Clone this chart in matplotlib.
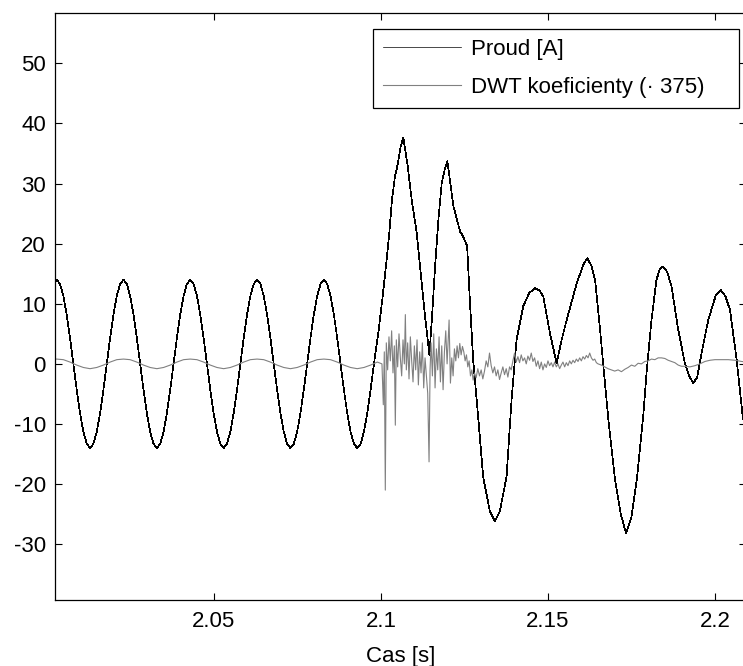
import numpy as np
import matplotlib
matplotlib.use('Agg')
import matplotlib.pyplot as plt
from matplotlib import rcParams

rcParams.update({
    'font.family': ['Liberation Sans', 'DejaVu Sans'],
    'font.size': 16,
    'axes.linewidth': 0.9,
    'axes.unicode_minus': False,
    'xtick.direction': 'in', 'ytick.direction': 'in',
    'xtick.top': True, 'ytick.right': True,
    'xtick.major.size': 5, 'ytick.major.size': 5,
    'xtick.major.width': 0.8, 'ytick.major.width': 0.8,
})

# time in ms after 2.000 s
# current [A], regular 50 Hz part sampled every 1 ms from 1.9 ms
cur_reg_start, cur_reg_step = 1.9, 1.0
cur_reg = [13.3,
           14.0, 13.3, 11.3, 8.2, 4.3, 0.0, -4.3, -8.2, -11.3, -13.3,
           -14.0, -13.3, -11.3, -8.2, -4.3, 0.0, 4.3, 8.2, 11.3, 13.3,
           14.0, 13.3, 11.3, 8.2, 4.3, 0.0, -4.3, -8.2, -11.3, -13.3,
           -14.0, -13.3, -11.3, -8.2, -4.3, 0.0, 4.3, 8.2, 11.3, 13.3,
           14.0, 13.3, 11.3, 8.2, 4.3, 0.0, -4.3, -8.2, -11.3, -13.3,
           -14.0, -13.3, -11.3, -8.2, -4.3, 0.0, 4.3, 8.2, 11.3, 13.3,
           14.0, 13.3, 11.3, 8.2, 4.3, 0.0, -4.3, -8.2, -11.3, -13.3,
           -14.0, -13.3, -11.3, -8.2, -4.3, 0.0, 4.3, 8.2, 11.3, 13.3,
           14.0, 13.3, 11.3, 8.2, 4.3, 0.0, -4.3, -8.2, -11.3, -13.3,
           -14.0, -13.3, -11.3, -8.2, -4.3, 0.0]
# current during / after the fault
cur_ms = [99.2, 100.4, 101.7, 102.5, 103.3, 104.2, 104.9, 105.9, 106.7, 108.0,
          109.2, 110.7, 111.7, 113.2, 114.5, 115.3, 116.2, 117.2, 118.2, 119.2,
          119.9, 120.8, 121.7, 123.7, 124.6, 125.8, 126.6, 127.6, 129.1, 130.6,
          132.6, 134.1, 135.6, 137.6, 139.1, 140.6, 142.6, 144.4, 146.1, 147.5,
          148.6, 150.6, 152.6, 154.1, 155.6, 158.6, 160.6, 161.8, 163.1, 164.1,
          165.6, 166.6, 168.1, 170.1, 171.8, 173.4, 175.0, 176.6, 178.5, 179.6,
          181.0, 182.5, 183.5, 184.5, 185.7, 187.0, 189.0, 191.0, 192.3, 193.5,
          194.7, 196.0, 198.0, 200.3, 201.7, 203.1, 204.5, 206.5, 208.2, 210.0]
cur_val = [5.1, 10.7, 17.3, 21.8, 27.3, 31.2, 32.9, 36.2, 37.6, 32.9,
           27.3, 21.8, 16.2, 7.9, 1.5, 7.9, 16.2, 24.0, 30.1, 32.6,
           33.7, 30.0, 26.2, 22.0, 21.2, 19.6, 10.7, 0.7, -8.8, -18.8,
           -24.5, -26.2, -24.5, -18.8, -6.0, 4.0, 9.6, 11.8, 12.6, 12.2,
           11.2, 5.1, 0.1, 4.0, 7.3, 13.4, 16.5, 17.6, 16.2, 14.0,
           5.7, -0.4, -9.3, -19.3, -25.0, -28.2, -25.5, -19.3, -8.8, -1.0,
           7.3, 14.0, 15.8, 16.2, 15.3, 12.9, 5.7, 0.1, -2.0, -3.2,
           -2.2, 1.8, 7.3, 11.5, 12.3, 11.3, 9.0, 0.7, -8.2, -14.0]

# DWT coefficients (x375), regular part sampled every 2 ms from 0.9 ms
dwt_reg_start, dwt_reg_step = 0.9, 2.0
dwt_reg = [0.7,
           0.8, 0.7, 0.3, -0.2, -0.6, -0.8, -0.6, -0.2, 0.3, 0.7,
           0.8, 0.7, 0.3, -0.2, -0.6, -0.8, -0.6, -0.2, 0.3, 0.7,
           0.8, 0.7, 0.3, -0.2, -0.6, -0.8, -0.6, -0.2, 0.3, 0.7,
           0.8, 0.7, 0.3, -0.2, -0.6, -0.8, -0.6, -0.2, 0.3, 0.7,
           0.8, 0.7, 0.3, -0.2, -0.6, -0.8, -0.6, -0.2, 0.3]
dwt_ms = [100.3, 100.7, 101.0, 101.3, 101.6, 102.0, 102.4, 102.8, 103.2, 103.6,
          104.0, 104.3, 104.6, 105.0, 105.4, 105.8, 106.2, 106.6, 107.0, 107.3,
          107.6, 108.0, 108.4, 108.8, 109.2, 109.6, 110.0, 110.4, 110.8, 111.2,
          111.6, 112.0, 112.4, 112.8, 113.2, 113.6, 114.0, 114.4, 114.7, 115.0,
          115.4, 115.8, 116.2, 116.6, 117.0, 117.4, 117.8, 118.2, 118.6, 119.0,
          119.4, 119.8, 120.4, 120.8, 121.2, 121.6, 122.0, 122.4, 122.8, 123.2,
          123.6, 124.0, 124.4, 124.8, 125.2, 125.6, 126.0, 126.4, 126.8, 127.2,
          127.6, 128.0, 128.5, 129.0, 129.5, 130.0, 130.5, 131.0, 131.5, 132.0,
          132.5, 133.0, 133.5, 134.0, 134.5, 135.0, 135.5, 136.0, 136.5, 137.0,
          137.5, 138.0, 138.5, 139.0, 139.5, 140.0, 140.5, 141.0, 141.5, 142.0,
          142.5, 143.0, 143.5, 144.0, 144.5, 145.0, 145.5, 146.0, 146.5, 147.0,
          147.5, 148.0, 148.5, 149.0, 149.5, 150.0, 150.5, 151.0, 151.5, 152.0,
          152.5, 153.0, 153.5, 154.0, 154.5, 155.0, 155.5, 156.0, 156.5, 157.0,
          157.5, 158.0, 158.5, 159.0, 159.5, 160.0, 160.5, 161.0, 161.5, 162.0,
          162.5, 163.0, 163.5, 164.0, 164.5, 165.0, 166.0, 167.0, 168.0, 169.0,
          170.0, 171.0, 172.0, 173.0, 174.0, 175.0, 176.0, 177.0, 178.0, 179.0,
          180.0, 181.0, 182.0, 183.0, 184.0, 185.0, 186.0, 187.0, 188.0, 189.0,
          190.0, 191.0, 192.5, 194.0, 195.5, 197.0, 198.5, 200.0, 202.0, 204.0,
          206.0, 208.0, 210.0]
dwt_val = [0.0, -6.8, 2.0, -21.0, 3.5, -1.0, 4.5, 0.5, 5.5, -1.5,
           3.0, -10.2, 4.0, -0.5, 5.0, 1.0, -2.0, 4.0, 0.0, 8.2,
           -1.0, 3.5, -2.5, 4.5, 0.5, -3.0, 3.0, -1.0, 4.0, -3.5,
           2.0, -1.5, 3.5, -4.0, 1.0, -2.0, -4.9, -16.3, -1.0, 3.5,
           -2.0, 5.0, -4.0, 2.5, -1.0, 4.5, -3.0, 3.0, -4.3, 2.0,
           5.5, 0.0, 7.3, -3.2, 1.0, -2.0, 2.5, 0.5, 3.0, 1.0,
           3.4, 1.5, 2.9, 2.0, 0.5, 1.5, -0.5, 0.5, -2.0, -1.0,
           -2.7, -1.5, -2.3, -0.8, -2.0, -1.0, -2.5, -1.2, 0.5, -0.5,
           1.8, -0.3, -1.5, -0.5, -2.0, -1.0, -2.6, -1.5, -0.5, -1.8,
           -0.8, -2.2, -0.5, -1.0, 0.5, 1.8, 0.3, 1.2, 0.2, 1.5,
           0.5, 1.0, 0.0, 1.3, 0.6, 1.8, 0.4, 1.0, -0.4, 0.5,
           -0.8, 0.3, -1.0, 0.0, -0.6, 0.5, -0.3, 0.2, -0.5, 0.3,
           -0.5, 0.0, -0.8, -0.2, 0.3, -0.5, 0.2, -0.3, 0.5, 0.0,
           0.6, 0.2, 0.8, 0.4, 1.0, 0.5, 1.2, 0.8, 1.4, 1.0,
           1.8, 1.0, 0.6, 0.8, 0.2, 0.0, -0.2, -0.5, -0.8, -1.0,
           -1.2, -1.0, -1.3, -0.9, -0.6, -0.2, -0.4, 0.1, 0.0, 0.4,
           0.5, 0.8, 0.7, 1.0, 1.0, 0.9, 0.6, 0.4, 0.2, -0.2,
           -0.4, -0.4, -0.5, -0.3, 0.0, 0.4, 0.6, 0.7, 0.7, 0.7,
           0.6, 0.4, 0.3]

x_ticks = [2.05, 2.1, 2.15, 2.2]
x_ticklabels = ['2.05', '2.1', '2.15', '2.2']
y_ticks = [-30, -20, -10, 0, 10, 20, 30, 40, 50]

cur_t = np.concatenate([cur_reg_start + cur_reg_step * np.arange(len(cur_reg)),
                        cur_ms]) / 1000 + 2.0
cur_y = np.concatenate([cur_reg, cur_val])
dwt_t = np.concatenate([dwt_reg_start + dwt_reg_step * np.arange(len(dwt_reg)),
                        dwt_ms]) / 1000 + 2.0
dwt_y = np.concatenate([dwt_reg, dwt_val])

W, H = 743, 666
fig = plt.figure(figsize=(W / 100, H / 100), dpi=100)
ax = fig.add_axes([55 / W, 1 - 600 / H, (746 - 55) / W, (600 - 13) / H])

ax.plot(cur_t, cur_y, color='k', lw=0.5, antialiased=False, label='Proud [A]')
ax.plot(dwt_t, dwt_y, color='0.5', lw=0.8, label='DWT koeficienty (· 375)')

ax.set_xlim(2.0024, 2.2093)
ax.set_ylim(-39.28, 58.37)
ax.set_xticks(x_ticks)
ax.set_xticklabels(x_ticklabels)
ax.set_yticks(y_ticks)
ax.tick_params(axis='x', pad=8)
ax.tick_params(axis='y', pad=6.5)
ax.set_xlabel('Cas [s]', labelpad=10)

leg = ax.legend(loc='upper left', mode='expand',
                bbox_to_anchor=(373 / W, 1 - 107 / H, (739 - 373) / W, 78 / H),
                bbox_transform=fig.transFigure, borderaxespad=0,
                fancybox=False, framealpha=1, edgecolor='k',
                handlelength=3.5, handletextpad=0.45, labelspacing=0.75,
                borderpad=0.45, fontsize=16)
leg.get_frame().set_linewidth(0.9)

fig.savefig('out.png', dpi=100)
